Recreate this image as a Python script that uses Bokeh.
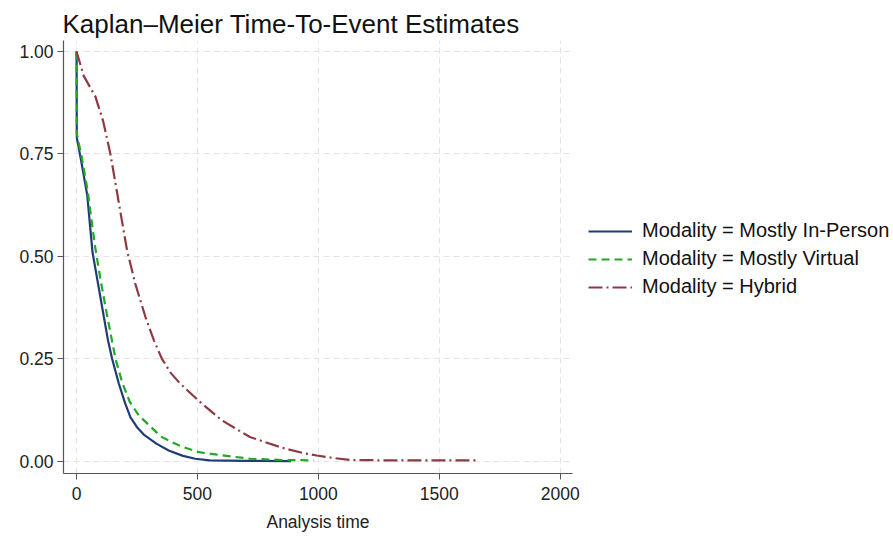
from bokeh.plotting import figure
from bokeh.models import Range1d, Legend, LegendItem, FixedTicker, NumeralTickFormatter
from bokeh.embed import file_html
from bokeh.resources import INLINE

title_text = "Kaplan\u2013Meier Time-To-Event Estimates"
x_label = "Analysis time"
x_ticks = [0, 500, 1000, 1500, 2000]
y_ticks = [0.0, 0.25, 0.5, 0.75, 1.0]

labels = ["Modality = Mostly In-Person", "Modality = Mostly Virtual", "Modality = Hybrid"]

t_inperson = [0, 1, 20, 44, 66, 89, 113, 130, 147, 175, 200, 223, 250, 278, 330, 381, 440, 491, 550, 700, 887]
s_inperson = [1.0, 0.79, 0.73, 0.65, 0.51, 0.433, 0.352, 0.295, 0.25, 0.189, 0.143, 0.107, 0.083, 0.065, 0.043, 0.026, 0.013, 0.006, 0.002, 0.001, 0.0]

t_virtual = [0, 1, 22, 46, 75, 100, 125, 161, 190, 220, 257, 305, 350, 400, 443, 505, 580, 717, 850, 981]
s_virtual = [1.0, 0.80, 0.74, 0.66, 0.53, 0.44, 0.36, 0.25, 0.19, 0.145, 0.112, 0.085, 0.06, 0.045, 0.034, 0.022, 0.016, 0.006, 0.003, 0.002]

t_hybrid = [0, 30, 78, 110, 140, 175, 209, 243, 285, 320, 353, 390, 429, 504, 600, 717, 850, 936, 993, 1060, 1130, 1300, 1500, 1659]
s_hybrid = [1.0, 0.94, 0.89, 0.83, 0.75, 0.63, 0.514, 0.433, 0.352, 0.295, 0.25, 0.215, 0.189, 0.148, 0.10, 0.059, 0.033, 0.02, 0.014, 0.008, 0.003, 0.002, 0.002, 0.002]

FONT = "Liberation Sans"

p = figure(frame_width=509, frame_height=433, output_backend="svg", toolbar_location=None,
           x_range=Range1d(-54, 2051), y_range=Range1d(-0.03, 1.027),
           min_border_left=63, min_border_right=0, min_border_top=40, min_border_bottom=65)

p.outline_line_color = None
p.background_fill_color = "white"
p.border_fill_color = "white"

p.title.text = title_text
p.title.text_font = FONT
p.title.text_font_size = "26px"
p.title.text_font_style = "normal"
p.title.text_color = "#111111"
p.title.align = "left"
p.title.offset = -1
p.title.standoff = 4

for ax in (p.xaxis[0], p.yaxis[0]):
    ax.axis_line_color = "#555555"
    ax.axis_line_width = 1.2
    ax.major_tick_line_color = "#555555"
    ax.major_tick_out = 6
    ax.major_tick_in = 0
    ax.minor_tick_line_color = None
    ax.major_label_text_font = FONT
    ax.major_label_text_font_size = "17.5px"
    ax.major_label_text_color = "#222222"

p.yaxis.major_label_standoff = 4
p.xaxis.major_label_standoff = 7
p.xaxis.ticker = FixedTicker(ticks=x_ticks)
p.yaxis.ticker = FixedTicker(ticks=y_ticks)
p.yaxis.formatter = NumeralTickFormatter(format="0.00")
p.xaxis.axis_label = x_label
p.xaxis.axis_label_text_font = FONT
p.xaxis.axis_label_text_font_size = "17.5px"
p.xaxis.axis_label_text_font_style = "normal"
p.xaxis.axis_label_text_color = "#222222"
p.xaxis.axis_label_standoff = 9

p.grid.grid_line_color = "#e4e4e4"
p.grid.grid_line_dash = "6 4"
p.grid.grid_line_width = 1

r1 = p.line(t_inperson, s_inperson, line_color="#1f3c75", line_width=2.2)
r2 = p.line(t_virtual, s_virtual, line_color="#22a822", line_width=2.2, line_dash="8 5")
r3 = p.line(t_hybrid, s_hybrid, line_color="#8e3a42", line_width=2.2, line_dash="14 4 2 4")

legend = Legend(items=[LegendItem(label=labels[0], renderers=[r1]),
                       LegendItem(label=labels[1], renderers=[r2]),
                       LegendItem(label=labels[2], renderers=[r3])],
                location=(16, 175), orientation="vertical",
                glyph_width=44, glyph_height=20, label_height=20, spacing=5,
                label_standoff=10, padding=0, margin=0,
                label_text_font=FONT, label_text_font_size="20px", label_text_color="#111111",
                border_line_color=None, background_fill_alpha=0)
p.add_layout(legend, "right")

open("out.html", "w").write(file_html(p, INLINE))
